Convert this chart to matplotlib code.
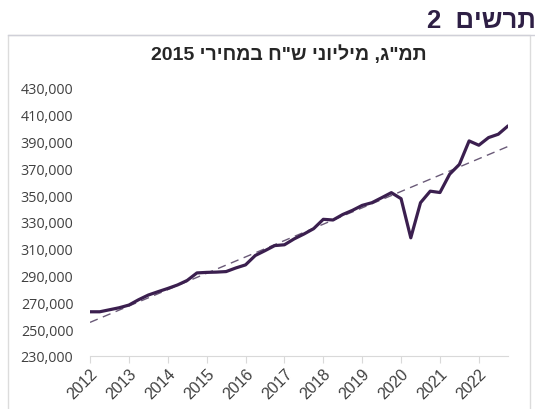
import matplotlib
matplotlib.use('Agg')
import matplotlib.pyplot as plt
import numpy as np
from matplotlib.patches import Rectangle

# quarterly GDP, million NIS, 2015 prices (2012Q1 .. 2022Q4)
years = list(range(2012, 2023))
gdp = [263000, 263000, 264500, 266000,
       268000, 272000, 275500, 278000,
       280400, 283000, 286400, 292000,
       292400, 292600, 293000, 295700,
       298000, 305000, 308600, 312400,
       313000, 317400, 321000, 325000,
       332000, 331500, 335600, 338700,
       342400, 344400, 348100, 351900,
       347400, 318200, 344400, 353000,
       352000, 365700, 373000, 390500,
       387300, 393000, 395500, 401700]
yticks = list(range(230000, 430001, 20000))

fig_title = 'תרשים 2'
chart_title = 'תמ"ג, מיליוני ש"ח במחירי 2015'


def visual(s):
    # matplotlib has no bidi support: put hebrew words in display order
    out = []
    for w in reversed(s.split(' ')):
        out.append(w if w.isdigit() else w[::-1])
    return ' '.join(out)


t = np.array([2012 + i / 4 for i in range(len(gdp))])
y = np.array(gdp)
k, b = np.polyfit(t, y, 1)

fig = plt.figure(figsize=(5.35, 4.1), dpi=100)
fig.patch.set_facecolor('white')

# frame around the chart
fig.patches.append(Rectangle((8 / 535, -0.05), 522 / 535, 1.05 - 36 / 410,
                             transform=fig.transFigure, fill=False,
                             edgecolor='#dcdcdc', linewidth=1))
fig.add_artist(plt.Line2D([8 / 535, 1], [1 - 36 / 410, 1 - 36 / 410],
                          transform=fig.transFigure, color='#d0d0d8', linewidth=1))

fig.text(427 / 535, 1 - 21 / 410, visual(fig_title).replace(' ', '  '),
         ha='left', va='center', fontsize=18.5, fontweight='bold', color='#2e1f45',
         family=['Liberation Sans', 'DejaVu Sans'])

ax = fig.add_axes([90 / 535, 1 - 357 / 410, 418 / 535, 268 / 410])
ax.plot(t, y, color='#3b1f4f', linewidth=2.3, solid_capstyle='round', zorder=3)
ax.plot(t, k * t + b, color='#6a5a78', linewidth=1.0, dashes=(6, 4), zorder=2)

ax.set_xlim(2012, 2022.75)
ax.set_ylim(230000, 430000)
ax.set_yticks(yticks)
ax.set_yticklabels([f'{v:,}' for v in yticks], family='Open Sans',
                   fontsize=10.3, color='#404040')
ax.set_xticks(years)
ax.set_xticklabels([str(v) for v in years], family='Liberation Sans', fontsize=11.5,
                   color='#404040', rotation=45, ha='right', va='top',
                   rotation_mode='anchor')
ax.tick_params(axis='y', length=0, pad=12)
ax.tick_params(axis='x', length=5, color='#d9d9d9', pad=2)

for s in ['top', 'right', 'left']:
    ax.spines[s].set_visible(False)
ax.spines['bottom'].set_color('#d9d9d9')

fig.text(289 / 535, 1 - 55 / 410, visual(chart_title), ha='center', va='center',
         fontsize=14, fontweight='bold', color='#262626',
         family=['Liberation Sans', 'DejaVu Sans'])

fig.savefig('out.png', dpi=100)
